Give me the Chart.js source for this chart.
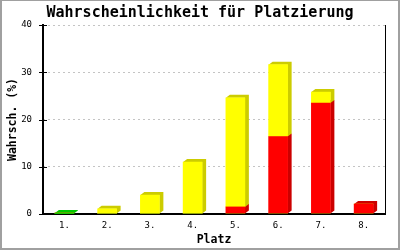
<!DOCTYPE html>
<html>
<head>
<meta charset="utf-8">
<script src="https://cdn.jsdelivr.net/npm/chart.js@4"></script>
<style>
  html, body { margin: 0; padding: 0; background: #fff; }
  canvas { display: block; }
</style>
</head>
<body>
<canvas id="platzChart" width="400" height="250"></canvas>
<script>
// Werte
const plaetze = ['1.', '2.', '3.', '4.', '5.', '6.', '7.', '8.'];
const gruen = [0.2, 0, 0, 0, 0, 0, 0, 0];
const rot = [0, 0, 0, 0, 1.5, 16.4, 23.5, 2.1];
const gelb = [0, 1.1, 4.0, 11.0, 23.1, 15.2, 2.3, 0];
const yTicks = [0, 10, 20, 30, 40];

const MONO = "'DejaVu Sans Mono', 'Liberation Mono', monospace";
const DX = 4, DY = 3;

// 3D-Effekt: Seite und Deckel jedes Balkens, vor den Frontflaechen gezeichnet
const depthPlugin = {
    id: 'depth3d',
    beforeDatasetsDraw(chart) {
        const ctx = chart.ctx;
        ctx.save();
        chart.data.datasets.forEach((ds, di) => {
            const meta = chart.getDatasetMeta(di);
            meta.data.forEach((bar, i) => {
                if (!ds.data[i]) return;
                const l = bar.x - bar.width / 2, r = bar.x + bar.width / 2;
                const top = bar.y, base = bar.base;
                ctx.fillStyle = ds.depthColor;
                ctx.beginPath();
                ctx.moveTo(r, base);
                ctx.lineTo(r + DX, base - DY);
                ctx.lineTo(r + DX, top - DY);
                ctx.lineTo(l + DX, top - DY);
                ctx.lineTo(l, top);
                ctx.lineTo(r, top);
                ctx.closePath();
                ctx.fill();
            });
        });
        ctx.restore();
    },
    afterDraw(chart) {
        const ctx = chart.ctx;
        const area = chart.chartArea;
        const y = chart.scales.y;
        ctx.save();
        ctx.strokeStyle = '#000';
        ctx.lineWidth = 1;
        // Tickstriche links, ueber die Achse hinweg
        yTicks.forEach(v => {
            const py = Math.round(y.getPixelForValue(v)) + 0.5;
            ctx.beginPath();
            ctx.moveTo(area.left - 4, py);
            ctx.lineTo(area.left + 4, py);
            ctx.stroke();
        });
        // rechte Begrenzung
        ctx.beginPath();
        ctx.moveTo(Math.round(area.right) + 0.5, area.top);
        ctx.lineTo(Math.round(area.right) + 0.5, area.bottom);
        ctx.stroke();
        // grauer Rahmen
        ctx.fillStyle = '#a0a0a0';
        ctx.fillRect(0, 0, 2, 250);
        ctx.fillRect(398, 0, 2, 250);
        ctx.fillRect(0, 248, 400, 2);
        ctx.fillRect(0, 0, 400, 1);
        ctx.restore();
    }
};

new Chart(document.getElementById('platzChart'), {
    type: 'bar',
    data: {
        labels: plaetze,
        datasets: [
            { data: gruen, backgroundColor: '#00e000', depthColor: '#00c800' },
            { data: rot, backgroundColor: '#ff0000', depthColor: '#cc0000' },
            { data: gelb, backgroundColor: '#ffff00', depthColor: '#cccc00' },
        ].map(d => Object.assign(d, { barThickness: 19, borderWidth: 0 }))
    },
    options: {
        responsive: false,
        animation: false,
        layout: { padding: 0 },
        plugins: {
            legend: { display: false },
            tooltip: { enabled: false },
            title: {
                display: true,
                text: 'Wahrscheinlichkeit für Platzierung',
                color: '#000',
                font: { family: MONO, size: 15, weight: 'bold', lineHeight: 1.2 },
                padding: { top: 4, bottom: 3 }
            }
        },
        scales: {
            x: {
                stacked: true,
                grid: { display: false, drawTicks: false },
                border: { color: '#000', width: 2 },
                ticks: { color: '#000', font: { family: MONO, size: 9 }, padding: 6 },
                title: {
                    display: true,
                    text: 'Platz',
                    color: '#000',
                    font: { family: MONO, size: 11.5, weight: 'bold' },
                    padding: { top: 0, bottom: 3 }
                },
                afterFit(scale) { scale.height = 36; }
            },
            y: {
                stacked: true,
                min: 0,
                max: 40,
                grid: { color: '#c4c4c4', lineWidth: 1, drawTicks: false },
                border: { color: '#000', width: 2, dash: [2, 3], dashOffset: -4 },
                ticks: {
                    stepSize: 10,
                    color: '#000',
                    padding: 11,
                    font: { family: MONO, size: 9 }
                },
                title: {
                    display: true,
                    text: 'Wahrsch. (%)',
                    color: '#000',
                    font: { family: MONO, size: 11.5, weight: 'bold' },
                    padding: { top: 6, bottom: 0 }
                },
                afterFit(scale) { scale.width = 43; }
            },
            // leere rechte Achse, nur als Rand
            rechts: {
                position: 'right',
                min: 0,
                max: 40,
                grid: { display: false, drawTicks: false },
                border: { display: false },
                ticks: { display: false },
                afterFit(scale) { scale.width = 15; }
            }
        }
    },
    plugins: [depthPlugin]
});
</script>
</body>
</html>
